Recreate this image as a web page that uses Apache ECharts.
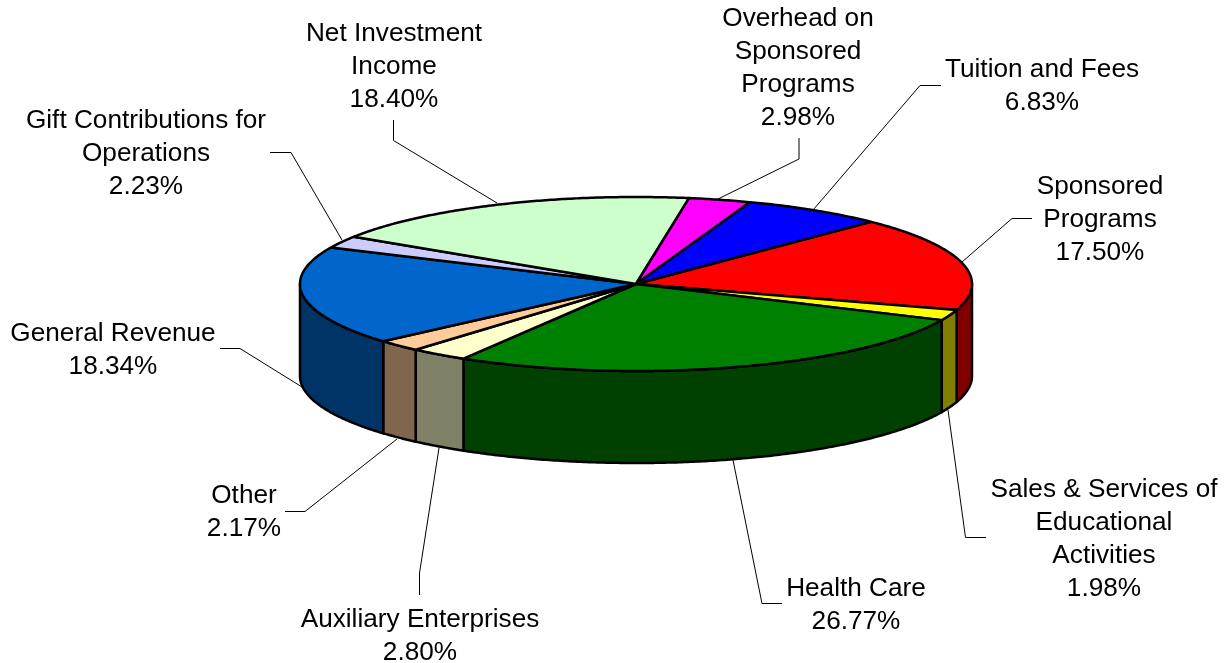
<!DOCTYPE html>
<html>
<head>
<meta charset="utf-8">
<title>Revenue sources</title>
<style>
	html, body { margin: 0; padding: 0; background: #fff; }
	#chart { width: 1225px; height: 663px; }
</style>
<script src="https://cdn.jsdelivr.net/npm/echarts@6/dist/echarts.min.js"></script>
</head>
<body>
<div id="chart"></div>
<script>
const names = [
	'Sponsored\nPrograms',
	'Sales & Services of\nEducational\nActivities',
	'Health Care',
	'Auxiliary Enterprises',
	'Other',
	'General Revenue',
	'Gift Contributions for\nOperations',
	'Net Investment\nIncome',
	'Overhead on\nSponsored\nPrograms',
	'Tuition and Fees'
];
const shares = [ 17.50, 1.98, 26.77, 2.80, 2.17, 18.34, 2.23, 18.40, 2.98, 6.83 ];
const topColors = [
	'#ff0000', '#ffff00', '#008000', '#ffffcc', '#ffcc99',
	'#0066cc', '#ccccff', '#ccffcc', '#ff00ff', '#0000ff'
];
const wallColors = [
	'#800000', '#808000', '#004000', '#808066', '#80664d',
	'#003366', '#666680', '#668066', '#800080', '#000080'
];
// label centres, y is the middle of the text block
const labelCentres = [
	[ 1100, 219.5 ], [ 1104, 539 ], [ 856, 605 ], [ 420, 636 ], [ 244, 512 ],
	[ 113, 350 ], [ 146, 153.5 ], [ 394, 66.5 ], [ 798, 68 ], [ 1042, 86 ]
];
const leaderLines = [
	[ [ 1032, 218.5 ], [ 1012, 218.5 ], [ 962, 262 ] ],
	[ [ 986, 537.5 ], [ 965.5, 537.5 ], [ 948, 410 ] ],
	[ [ 782, 603.5 ], [ 762, 603.5 ], [ 733, 460 ] ],
	[ [ 419.5, 595 ], [ 419.5, 573 ], [ 439, 448 ] ],
	[ [ 285, 511.5 ], [ 305, 511.5 ], [ 397, 439 ] ],
	[ [ 220, 348.5 ], [ 240, 348.5 ], [ 302, 387 ] ],
	[ [ 270, 152.5 ], [ 291, 152.5 ], [ 342, 240 ] ],
	[ [ 393.5, 120 ], [ 393.5, 140.5 ], [ 497, 203 ] ],
	[ [ 799, 138 ], [ 799, 159 ], [ 718, 199 ] ],
	[ [ 941, 85.5 ], [ 920, 85.5 ], [ 813, 210 ] ]
];

const CX = 636;
const CY = 284;
const RX = 336;
const RY = 87;
const DEPTH = 92;
const FIRST_ANGLE = 44.4;
const total = shares.reduce( ( sum, v ) => sum + v, 0 );

/**
 * Angle where a slice starts, clockwise from north, in degrees.
 *
 * @param {number} index
 * @return {number}
 */
const startAngle = ( index ) => FIRST_ANGLE +
	shares.slice( 0, index ).reduce( ( sum, v ) => sum + v, 0 ) / total * 360;

const rimPoint = ( deg, drop ) => {
	const rad = deg * Math.PI / 180;
	return [ CX + RX * Math.sin( rad ), CY - RY * Math.cos( rad ) + drop ];
};

const arcPoints = ( from, to, drop ) => {
	const points = [];
	const steps = Math.max( 2, Math.ceil( Math.abs( to - from ) ) * 2 );
	for ( let i = 0; i <= steps; i++ ) {
		points.push( rimPoint( from + ( to - from ) * i / steps, drop ) );
	}
	return points;
};

const outline = { stroke: '#000', lineWidth: 2.5, lineJoin: 'round' };

const renderWall = ( params, api ) => {
	const i = params.dataIndex;
	const start = startAngle( i );
	const from = Math.max( start, 90 );
	const to = Math.min( start + api.value( 0 ) / total * 360, 270 );
	if ( from >= to ) {
		return null;
	}
	return {
		type: 'polygon',
		shape: { points: arcPoints( from, to, 0 ).concat( arcPoints( to, from, DEPTH ) ) },
		style: Object.assign( { fill: wallColors[ i ] }, outline )
	};
};

const renderTop = ( params, api ) => {
	const i = params.dataIndex;
	const start = startAngle( i );
	const end = start + api.value( 0 ) / total * 360;
	return {
		type: 'polygon',
		shape: { points: [ [ CX, CY ] ].concat( arcPoints( start, end, 0 ) ) },
		style: Object.assign( { fill: topColors[ i ] }, outline )
	};
};

const renderLabel = ( params, api ) => {
	const i = params.dataIndex;
	return {
		type: 'group',
		children: [
			{
				type: 'polyline',
				shape: { points: leaderLines[ i ] },
				style: { fill: null, stroke: '#000', lineWidth: 1 }
			},
			{
				type: 'text',
				x: labelCentres[ i ][ 0 ],
				y: labelCentres[ i ][ 1 ],
				style: {
					text: names[ i ] + '\n' + api.value( 0 ).toFixed( 2 ) + '%',
					font: '26.2px "Liberation Sans", Arial, sans-serif',
					lineHeight: 33,
					fill: '#000',
					align: 'center',
					verticalAlign: 'middle'
				}
			}
		]
	};
};

const customSeries = ( renderItem, z ) => ( {
	type: 'custom',
	coordinateSystem: 'none',
	renderItem,
	data: shares,
	z,
	silent: true,
	animation: false
} );

const chart = echarts.init( document.getElementById( 'chart' ), null, { renderer: 'canvas' } );
chart.setOption( {
	backgroundColor: '#fff',
	animation: false,
	series: [
		customSeries( renderLabel, 1 ),
		customSeries( renderWall, 2 ),
		customSeries( renderTop, 3 )
	]
} );
</script>
</body>
</html>
